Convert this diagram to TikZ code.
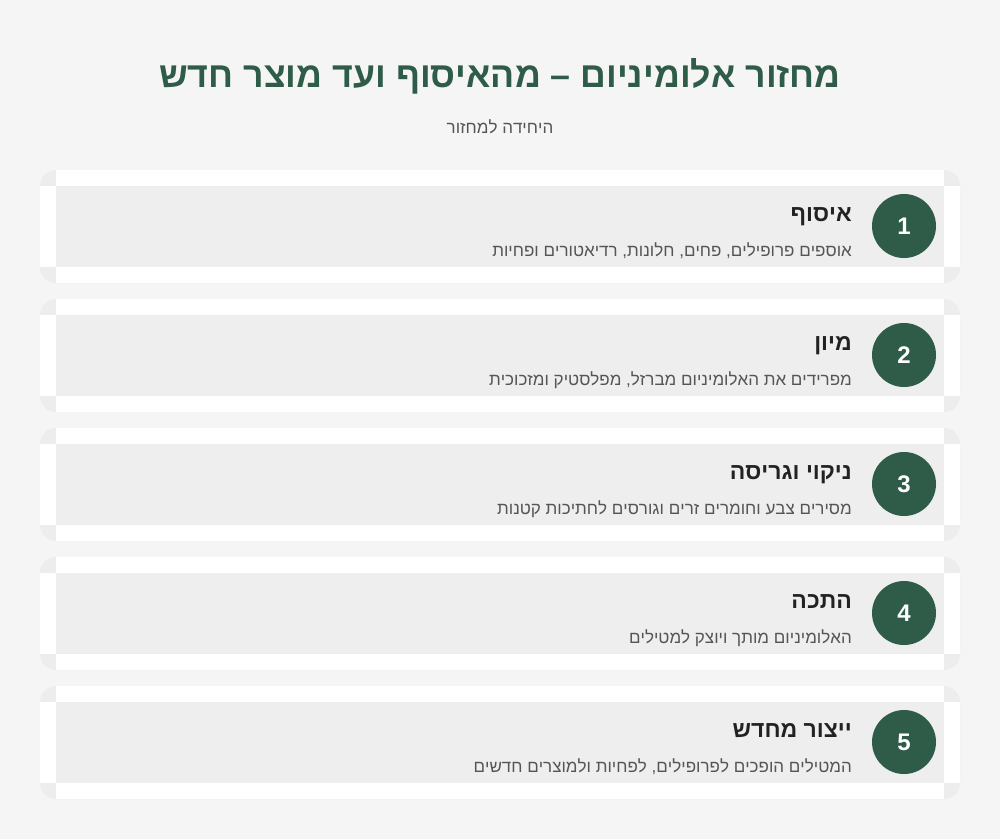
\documentclass[tikz,border=0pt]{standalone}
\usepackage{fontspec}
\setmainfont{Liberation Sans}
\TeXXeTstate=1
\definecolor{pagebg}{HTML}{F4F5F4}
\definecolor{forest}{HTML}{2E5C48}
\definecolor{bandgray}{HTML}{EEEEEE}
\definecolor{cornergray}{HTML}{EDEDED}
\definecolor{inkdark}{HTML}{222222}
\definecolor{inkgray}{HTML}{555555}
\begin{document}
\begin{tikzpicture}[x=1pt,y=-1pt,
    badge/.style={circle,fill=forest,minimum size=64pt,inner sep=0pt,text=white,font=\bfseries\fontsize{24}{26}\selectfont},
    heading/.style={anchor=base east,inner sep=0pt,text=inkdark,font=\bfseries\fontsize{23}{27}\selectfont},
    blurb/.style={anchor=base east,inner sep=0pt,text=inkgray,font=\fontsize{17}{20}\selectfont}]
            \useasboundingbox[fill=pagebg] (0,0) rectangle (1000,839);

            \node[anchor=base,inner sep=0pt,text=forest,font=\bfseries\fontsize{35.7}{40}\selectfont] (title) at (500,87) {\beginR מחזור אלומיניום – מהאיסוף ועד מוצר חדש\endR};
            \node[anchor=base,inner sep=0pt,text=inkgray,font=\fontsize{17}{20}\selectfont] (subtitle) at (500,133) {\beginR היחידה למחזור\endR};

            % card backgrounds
            \foreach \y in {170,299,428,557,686} {
                \fill[cornergray,rounded corners=16pt] (40,\y) rectangle (960,\y+113);
                \fill[white] (56,\y) rectangle (944,\y+113);
                \fill[white] (40,\y+16) rectangle (960,\y+97);
                \fill[bandgray] (56,\y+16) rectangle (944,\y+97);
            }

            \node[badge] (num1) at (904,226) {1};
            \node[heading] (head1) at (852,221) {\beginR איסוף\endR};
            \node[blurb] (text1) at (852,256) {\beginR אוספים פרופילים, פחים, חלונות, רדיאטורים ופחיות\endR};

            \node[badge] (num2) at (904,355) {2};
            \node[heading] (head2) at (852,350) {\beginR מיון\endR};
            \node[blurb] (text2) at (852,385) {\beginR מפרידים את האלומיניום מברזל, מפלסטיק ומזכוכית\endR};

            \node[badge] (num3) at (904,484) {3};
            \node[heading] (head3) at (852,479) {\beginR ניקוי וגריסה\endR};
            \node[blurb] (text3) at (852,514) {\beginR מסירים צבע וחומרים זרים וגורסים לחתיכות קטנות\endR};

            \node[badge] (num4) at (904,613) {4};
            \node[heading] (head4) at (852,608) {\beginR התכה\endR};
            \node[blurb] (text4) at (852,643) {\beginR האלומיניום מותך ויוצק למטילים\endR};

            \node[badge] (num5) at (904,742) {5};
            \node[heading] (head5) at (852,737) {\beginR ייצור מחדש\endR};
            \node[blurb] (text5) at (852,772) {\beginR המטילים הופכים לפרופילים, לפחיות ולמוצרים חדשים\endR};
        \end{tikzpicture}
\end{document}
